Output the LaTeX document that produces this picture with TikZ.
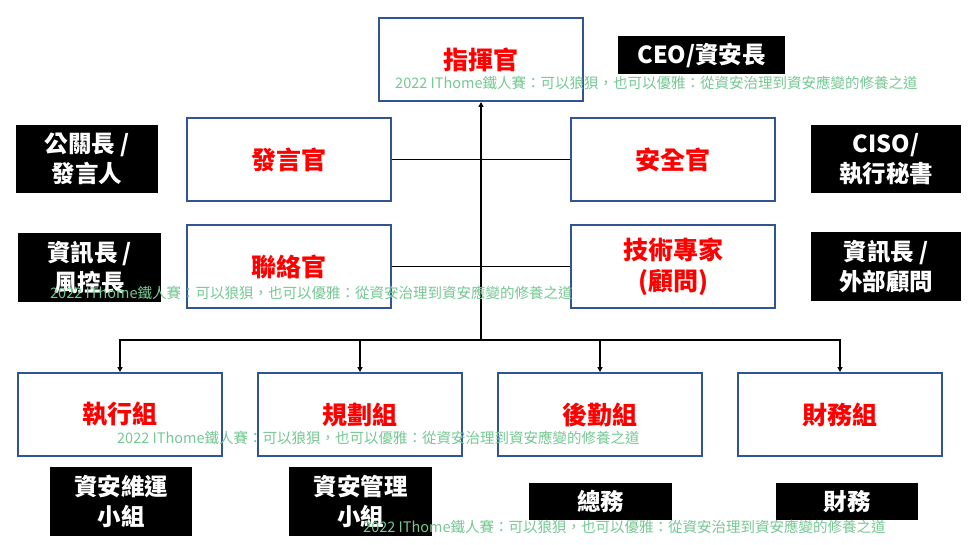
\documentclass[tikz,border=0pt]{standalone}
\usepackage{fontspec}
\setmainfont{Noto Sans CJK TC}
\usetikzlibrary{arrows.meta}
\definecolor{boxblue}{RGB}{47,85,151}
\definecolor{wmgreen}{RGB}{118,200,148}
\definecolor{titlered}{RGB}{255,0,0}
\begin{document}
\begin{tikzpicture}[x=1pt,y=-1pt,
  role/.style={draw=boxblue,line width=2pt,fill=white,minimum width=204pt,minimum height=83pt,inner sep=0pt,
    text=titlered,font=\fontsize{25}{31}\selectfont\bfseries,align=center},
  tag/.style={fill=black,text=white,inner sep=0pt,font=\fontsize{23.5}{30}\selectfont\bfseries,align=center},
  conn/.style={draw=black,line width=1.8pt},
  arr/.style={conn,-{Triangle[length=5pt,width=5pt]}},
  wm/.style={text=wmgreen,font=\fontsize{14.5}{16}\selectfont,anchor=west,inner sep=0pt}
]
\useasboundingbox (0,0) rectangle (976,545);
\fill[white] (0,0) rectangle (976,545);

% roles
\node[role] (cmd) at (481,59.5) {指揮官};
\node[role] (spk) at (289,159.5) {發言官};
\node[role] (sec) at (673,159.5) {安全官};
\node[role] (lia) at (289,266.5) {聯絡官};
\node[role] (tech) at (673,266.5) {技術專家\\(顧問)};
\node[role] (exec) at (120,414.5) {執行組};
\node[role] (plan) at (360,414.5) {規劃組};
\node[role] (logi) at (600,414.5) {後勤組};
\node[role] (fin) at (840,414.5) {財務組};

% tags
\node[tag,minimum width=167pt,minimum height=38pt] (ceo) at (701.5,55) {CEO/資安長};
\node[tag,minimum width=142pt,minimum height=68pt] (pr) at (87,159) {公關長 /\\發言人};
\node[tag,minimum width=150pt,minimum height=68pt] (ciso) at (886,159) {CISO/\\執行秘書};
\node[tag,minimum width=143pt,minimum height=69pt] (cio) at (89.5,267.5) {資訊長 /\\風控長};
\node[tag,minimum width=150pt,minimum height=69pt] (cio2) at (886,266.5) {資訊長 /\\外部顧問};
\node[tag,minimum width=142pt,minimum height=69pt] (ops) at (121,501.5) {資安維運\\小組};
\node[tag,minimum width=143pt,minimum height=69pt] (mgmt) at (360.5,501.5) {資安管理\\小組};
\node[tag,minimum width=143pt,minimum height=37pt] (ga) at (600.5,501.5) {總務};
\node[tag,minimum width=142pt,minimum height=37pt] (fn) at (847,501.5) {財務};

% connectors
\coordinate (hub) at (481,340);
\draw[conn] (spk.east) -- (sec.west);
\draw[conn] (lia.east) -- (tech.west);
\draw[arr] (hub) -- (cmd.south);
\draw[arr] (hub) -| (exec.north);
\draw[arr] (hub) -| (plan.north);
\draw[arr] (hub) -| (logi.north);
\draw[arr] (hub) -| (fin.north);

% watermarks
\node[wm] (w1) at (395,83) {2022 IThome鐵人賽：可以狼狽，也可以優雅：從資安治理到資安應變的修養之道};
\node[wm] (w2) at (50,293) {2022 IThome鐵人賽：可以狼狽，也可以優雅：從資安治理到資安應變的修養之道};
\node[wm] (w3) at (117,438) {2022 IThome鐵人賽：可以狼狽，也可以優雅：從資安治理到資安應變的修養之道};
\node[wm] (w4) at (363,527) {2022 IThome鐵人賽：可以狼狽，也可以優雅：從資安治理到資安應變的修養之道};
\end{tikzpicture}
\end{document}
